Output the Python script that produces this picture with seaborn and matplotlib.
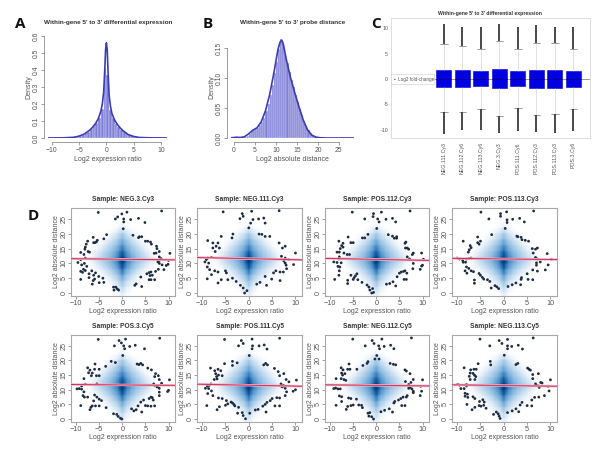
import numpy as np
import pandas as pd
import matplotlib
matplotlib.use("Agg")
import matplotlib.pyplot as plt
import seaborn as sns

sns.set_style("white")
plt.rcParams['font.family'] = ['Liberation Sans', 'DejaVu Sans']

W, H = 600, 453
TXT = "#555555"

# ---- panel A data
a_edges = [-10,-9.5,-9,-8.5,-8,-7.5,-7,-6.5,-6,-5.5,-5,-4.5,-4,-3.5,-3,-2.5,-2,-1.5,-1,-.5,0,.5,1,1.5,2,2.5,3,3.5,4,4.5,5,5.5,6,6.5,7,7.5,8,8.5,9,9.5,10]
a_heights = [.0003,.0003,.0005,.0007,.001,.0015,.002,.003,.005,.008,.012,.018,.027,.038,.052,.07,.09,.12,.17,.41,
             .37,.165,.115,.085,.065,.048,.034,.024,.016,.011,.007,.004,.003,.002,.0012,.0008,.0006,.0004,.0003,.0002]
a_curve_x = [-10.7,-8,-6,-5,-4,-3,-2.5,-2,-1.5,-1,-.75,-.5,-.3,-.15,0,.15,.3,.5,.75,1,1.5,2,2.5,3,4,5,6,8,11.1]
a_curve_y = [0,.001,.004,.011,.024,.048,.064,.085,.112,.16,.2,.27,.4,.52,.56,.52,.39,.25,.185,.145,.105,.08,.06,.044,.02,.009,.003,.001,0]

# ---- panel B data
b_edges = [x/2 for x in range(0, 43)]
b_heights = [.001,.0015,.001,.0008,.001,.002,.004,.007,.011,.013,.015,.017,.021,.027,.034,.045,.057,.072,.088,.108,.127,
             .148,.165,.16,.14,.125,.11,.097,.085,.072,.06,.049,.038,.028,.02,.013,.008,.005,.003,.0015,.0008,.0004]
b_curve_x = [-1.2,0,.7,1.5,2.5,3.5,4.5,5.5,6.5,7.5,8.5,9.5,10.5,11,11.4,11.8,12.5,13.5,14.5,15.5,16.5,17.5,18.5,19.5,20.5,22,28.6]
b_curve_y = [0,.0008,.0012,.0008,.002,.007,.013,.017,.027,.045,.072,.108,.148,.16,.163,.155,.13,.1,.075,.052,.03,.014,.005,.0015,.0004,0,0]

# ---- panel C data
c_samples = ["NEG.111.Cy3","NEG.112.Cy6","NEG.113.Cy6","NEG.3.Cy3","POS.111.Cy6","POS.112.Cy3","POS.113.Cy3","POS.3.Cy6"]
c_q1 = [-1.6,-1.6,-1.45,-1.85,-1.4,-1.8,-1.8,-1.5]
c_med = [0.05,0.05,0.0,0.05,0.05,0.0,0.0,0.05]
c_q3 = [1.7,1.7,1.5,2.0,1.6,1.8,1.8,1.6]
c_cap_hi = [6.8,6.5,6.0,7.5,5.9,7.1,7.0,5.9]
c_cap_lo = [-6.5,-6.4,-5.9,-7.3,-5.7,-7.0,-6.9,-5.8]
c_out_hi = [10.9,10.3,10.3,10.9,10.2,10.6,10.2,10.3]
c_out_lo = [-10.8,-10.0,-10.0,-10.6,-10.2,-10.4,-10.7,-10.2]

# ---- panel D density (shared look), x nodes on one side, rows from top to bottom
d_x = [0,.5,1,2,3,4,5,6,7,8,11]
d_y = [29,24,22,20,18,16,14,12,11,10,8,6,4,2,0,-1]
d_rows = [
 [0,0,0,0,0,0,0,0,0,0,0],
 [.01,0,0,0,0,0,0,0,0,0,0],
 [.12,.08,.04,0,0,0,0,0,0,0,0],
 [.32,.26,.20,.10,.03,0,0,0,0,0,0],
 [.45,.38,.32,.22,.12,.04,0,0,0,0,0],
 [.58,.50,.43,.33,.24,.14,.05,0,0,0,0],
 [.75,.64,.54,.42,.33,.25,.15,.06,.01,0,0],
 [.93,.78,.64,.50,.40,.32,.24,.14,.04,0,0],
 [1,.82,.66,.52,.41,.33,.25,.15,.05,0,0],
 [.95,.78,.62,.48,.38,.30,.22,.12,.03,0,0],
 [.75,.60,.50,.38,.27,.18,.09,.02,0,0,0],
 [.55,.45,.36,.25,.15,.07,.02,0,0,0,0],
 [.40,.32,.24,.13,.05,.01,0,0,0,0,0],
 [.27,.20,.12,.04,0,0,0,0,0,0,0],
 [.15,.10,.04,0,0,0,0,0,0,0,0],
 [.08,.05,.01,0,0,0,0,0,0,0,0],
]

neg3_cy3 = [(-5.2,27.2),(8.5,27.7),(1,27.3),(-.1,26.7),(-1,25.7),(-1.5,25),(.3,25),(.3,24),(1.8,24.8),(3.5,25.2),(4.9,23.8),(.2,21.7),(2.3,19.5),(-3.4,19.7),(-4,18.3),(-6.3,18.8),(-7.5,17.5),(-7.8,16.5),(-8,15.5),(-8.1,14.8),(-6.2,17),(-5.9,17),(-5.6,17.3),(-5.4,17.8),(-9,13.7),(-7.4,14),(-7.1,13.8),(-8.3,13),(-8,11.8),(-9,11.3),(-9.6,10.3),(-8.2,10),(-8.8,9.5),(-7.7,9),(-8.4,8),(-8,7.6),(-9,7.3),(-8.6,7),(-6.6,7.5),(-7.2,6.5),(-5.8,6.8),(-6.2,6),(-5.1,5.6),(-4.2,5),(-7.2,5.2),(-9,4.6),(-6.3,4.2),(-6,4.7),(-6.5,3),(-5,3.5),(-4,3.6),(-1.9,2),(-1.4,2),(-1.1,1.4),(-.8,1),(-1.8,1),(3,3.1),(2.7,2.6),(4.2,2.2),(4,5.4),(5.3,6.5),(5.8,6.9),(6.2,7.1),(6,5.9),(6.5,6),(5.8,4.5),(6.2,4.5),(7,4.5),(7.2,7.3),(7.8,8),(9,7.9),(9.5,9.3),(9.9,9.7),(8.6,9.5),(8,10),(7.7,10.5),(8,11),(8.4,11.6),(8,12.2),(10.3,13.4),(8,14),(7.3,13.5),(6.9,13.4),(7.5,15),(7.4,15.8),(6.3,16.5),(5,17.5),(5.5,17.5),(6.1,17.2),(3.5,18.7),(3.7,19),(4.2,19),(10,11)]
neg111_cy3 = [(-5.5,27.4),(6.5,27.8),(.6,27.6),(-1.4,26.8),(-1.2,25.9),(-1.9,25.1),(.9,24.8),(.4,23.6),(2.1,25),(3.2,25.3),(3.5,23.6),(0,22),(2.2,19.9),(-3.4,19.9),(-3.6,18.6),(-5.9,19.1),(-8.8,17.7),(-7.7,16.9),(-6.6,16.9),(-7,15.8),(-6.3,15.2),(-7.7,15.2),(-7.2,14),(-8.8,11.8),(-8,12),(-9.1,11.3),(-9.4,10.5),(-8.6,10.1),(-8.9,8.8),(-8.4,7.9),(-7.3,7.5),(-8.9,4.8),(-6.6,7.1),(-4.8,6.8),(-5.9,4.5),(-4.5,4.5),(-6.6,3.4),(-2.7,3.9),(-1.8,2.6),(-1.2,1.7),(-.9,0),(-.4,.8),(1.7,3),(2.4,3.6),(3.8,2.6),(3.5,5.6),(5.3,6.8),(5.8,7.5),(4.9,4.7),(6.7,4.2),(7.8,11.8),(7,12.4),(8.5,11.3),(7.8,10.1),(9.6,9.6),(8.1,8.2),(7.4,7.1),(6.7,7.1),(7.8,15.8),(7.2,15.2),(6.5,16.9),(4.5,19.1),(3.5,19.1),(10,13.5),(7.5,10.8),(8,9.4),(-8,6.2),(-5,7.5),(-3.5,5),(2.8,19.8)]
pos112_cy3 = [(-5.2,27.3),(7.3,27.7),(1.1,27.3),(-.6,26.8),(-.7,25.8),(-2.5,25),(.3,25),(.6,24),(2.1,24.9),(3.5,25.2),(4.2,24),(.1,21.8),(-1.8,19.8),(2.6,19.7),(-3,18.6),(-2.5,18.6),(-6.1,18.9),(-8.1,17.5),(-7.2,16.8),(-5.5,17),(-5,17),(-7.5,16),(-7.8,15),(-7.2,15.5),(-8.5,13.8),(-8,13.8),(-7,13.5),(-6.3,13),(-5.8,13),(-8,12.2),(-8.1,11.5),(-9.2,10.5),(-8.5,10.3),(-7.6,10.2),(-8.3,9),(-7.9,8.8),(-8,7.5),(-8.1,6),(-9,4.6),(-6.2,4.3),(-6.2,3.2),(-5.5,6),(-4.8,5.2),(-4.5,5.8),(-4.2,6.5),(-5,4.6),(-4,4.5),(-3.1,3.6),(-2,2.7),(-1.6,2),(-1.4,1),(-1,0),(-.6,.2),(-.8,1.5),(2.2,3),(2.9,3.2),(3.6,3.8),(4.2,2.4),(4.5,5.5),(5,6.7),(5.4,7.1),(5.9,7.3),(6,4.6),(6.5,4.6),(6.6,6.7),(6.2,7.5),(7.9,8.2),(8,10),(9.5,8),(10,9.4),(9.8,9.1),(10.2,11.4),(9.8,13.5),(8,13.5),(7.8,13),(6.7,12.2),(7.2,11.5),(6.3,15.2),(6.7,15.2),(7,14.8),(6.2,16.8),(6.4,17.2),(4.4,19),(4.4,18.5),(3.9,18.5),(3.5,19.2)]
pos113_cy3 = [(-4.9,27.3),(6.4,27.7),(.6,27.4),(-.7,26.8),(-.7,25.9),(-3.2,25),(.7,24.7),(.7,23.8),(1.9,24.9),(3.4,25.2),(4.4,24),(.3,21.8),(-2.6,19.7),(2.8,19.2),(3,19),(3.7,18.8),(3.9,18),(4.6,17.8),(5.3,17.5),(-5.6,18.9),(-8.7,17.5),(-5.6,17),(-5,17.5),(-5.3,16.5),(-7.2,16),(-7,15.3),(-7.4,14.6),(-7.6,13.8),(-10,11.8),(-9.5,11.5),(-8.8,11),(-8.7,10.4),(-8.2,10.4),(-8,11.5),(-7.5,11.7),(-7,11.8),(-8,8.8),(-7.5,8.3),(-8.3,7.5),(-7,7.5),(-7.9,6.7),(-6.5,7.2),(-6.3,4.4),(-6.3,3.3),(-5.3,6.6),(-5,6),(-4.6,5.3),(-4.3,4.7),(-3.5,4.5),(-3,3.9),(-2.7,1.7),(-1.9,2.5),(-1.5,2.1),(-1.1,1.5),(.9,2.2),(1.8,2.8),(2.6,3.4),(3.6,2.8),(3.7,4.6),(3.8,5.2),(5.2,4.6),(6.2,4.5),(5,6.5),(6.2,7.8),(7.2,7.4),(7,9.4),(8.9,7.8),(9.5,9.5),(7,10.2),(7.8,10.5),(7.2,11.5),(6.8,12),(10.2,11.4),(9.3,13.3),(7.2,15.2),(6.8,14.8),(6.3,13.5),(6.1,15)]
pos3_cy5 = [(-5.2,27.2),(8.1,27.6),(.7,27.3),(-.7,26.8),(-.2,26),(-1.7,25),(.3,25),(.5,24),(1.6,24.8),(2.8,25.2),(4.8,24),(.1,21.7),(-2.4,19.7),(-1.5,19.3),(-3.6,18),(-5.9,18.8),(-7.5,17.5),(-7,16.7),(-6,17),(-5,17),(-7.3,15.8),(-6.5,15.7),(-6.7,14.8),(-5.6,14.8),(-5,14.8),(-8.3,13.8),(-8,11.9),(-5.5,12),(-8.8,11.3),(-9.3,10.4),(-9.8,10.3),(-8.8,10.2),(-8.3,9.3),(-8.5,8),(-8.2,7.5),(-7.5,7.5),(-6,8.2),(-5.5,7.5),(-5,6.8),(-4.5,6.3),(-6.2,6.2),(-6.5,4.5),(-9,4.6),(-5.8,4.5),(-5,4.5),(-3.5,3.9),(-7,3.2),(-6.8,4),(-1.9,1.8),(-1.2,1.6),(-.9,.9),(-.4,.3),(-.1,0),(2,3.5),(2.5,2.8),(3,3.2),(3.4,4.5),(4.2,2.4),(4,5.8),(4.6,6.5),(5,4.6),(5.5,4.5),(6.2,4.4),(7,4.5),(5.8,7),(6.2,7.5),(6.7,6.5),(6.5,7.3),(8,8),(8,9.2),(9.8,9.4),(10,9.8),(8,10.5),(7.6,11),(6.8,12),(7,11.5),(7.5,11),(10.2,13.4),(8.5,12.2),(8,13.5),(7,14.5),(7.2,15.5),(7.8,14.8),(6.3,16.8),(5.5,17.4),(4.4,18.5),(3.2,18.8),(3.6,18.6),(4,19)]
pos111_cy5 = [(-5.2,27.2),(6.6,27.6),(.7,27.3),(-1.6,26.8),(-1.2,25.8),(-2.2,25),(.8,25),(.7,24),(2.2,25),(3.3,25.3),(3.9,23.9),(.1,21.7),(-3.5,19.7),(-2.5,19.2),(-3.5,18.3),(-5.2,18.9),(-8.2,17.4),(-6.6,17),(-7.3,16.5),(-6,16.5),(-7.1,15.5),(-6.5,15),(-6.9,14.5),(-5.7,14.8),(-7.4,13.5),(-6.8,13.7),(-8.1,12),(-8.5,11.5),(-8.9,11.2),(-9.3,10.5),(-8.6,10.4),(-8,9.6),(-8.8,8.7),(-7.7,8),(-6.5,7.2),(-5.7,7),(-4.8,6.3),(-3.8,5.8),(-3.5,5.5),(-3.2,5),(-4.5,5.2),(-9,4.6),(-5,4.7),(-3,4.5),(-2.2,4),(-6.3,4.2),(-6.8,3.2),(-2.4,2),(-1.4,2.2),(-1.2,1.2),(-.7,.1),(.2,2),(1.4,3.1),(2,3.3),(3,4.4),(3.7,2.4),(3.5,5),(3.9,5.7),(4.6,6.3),(5,7),(5.6,4.5),(6.6,4.5),(6,7.3),(6.6,7.2),(7.8,8),(8.1,9.3),(9.5,9.5),(10,10),(7,11.2),(7.4,11.5),(7.2,11),(6.9,12),(7.8,10.5),(10.2,13.3),(8.6,12.7),(8,13.5),(6.6,14.8),(7.5,15.5),(6.3,16.2),(5.5,17.3),(4,18.5),(3.6,19),(3.2,18.5)]
neg112_cy5 = [(-5.1,27.3),(7.6,27.7),(1.2,27.3),(-.9,26.8),(-.5,25.8),(-2.4,25),(.5,25),(.7,24),(1.7,24.8),(3.1,25.2),(3.8,24),(.1,21.7),(-.3,20.5),(.6,20.5),(-1.8,19.6),(-2,19),(-2.9,18.3),(3,19),(3.7,18.7),(-5.9,18.8),(-7.6,17.5),(-7.2,16.8),(-6.2,17),(-5.7,17),(-4.2,17),(-7.5,15.7),(-7.3,15),(-6.8,15.5),(-8.7,13.8),(-7.6,13.8),(-7,13.5),(-6.6,13.2),(-9.2,10.4),(-8.8,10.6),(-8.3,10.3),(-7.8,10.3),(-8,7.9),(-7.5,7.6),(-6,7.2),(-5.5,7),(-4.3,6.8),(-7.5,6),(-8.7,4.7),(-6.2,4.3),(-6.5,3.3),(-5.5,4.6),(-5,4.8),(-3.8,4.8),(-3.2,4.7),(-3,3.9),(-1.8,2),(-1.4,2.2),(-1.6,1),(-1,.8),(-.6,0),(1,2.5),(1.8,3),(2.8,3.5),(3.5,2.4),(3.8,5.5),(4,6),(4.8,6.5),(5.3,7),(5.8,7.5),(6.5,7.5),(6.7,8),(5.5,4.6),(6.2,4.6),(7,10.5),(7.3,10.8),(7.7,10.3),(8,9.5),(8,9),(9.5,8),(9.8,9.5),(9.6,11.2),(10,13.4),(8,13.5),(7.5,12.5),(7,11.8),(6.3,12.8),(7.3,15.5),(6.2,16.8),(6.5,16.4),(4.2,18.5)]
neg113_cy5 = [(-5.1,27.3),(6.3,27.7),(.8,27.2),(-1,26.8),(-.4,25.8),(-3,25),(.8,25),(.8,24),(1.7,24.8),(3.1,25.2),(4,23.9),(.1,21.8),(-2.9,19.7),(-2.8,18.5),(3,19),(2.6,18.6),(-5.5,18.9),(-8.5,17.5),(-7.1,16.8),(-6.4,17),(-5.9,17),(-7.2,15.7),(-6.6,15.6),(-6.3,15),(-7.4,14.6),(-6,14.5),(-7.2,13.5),(-6.2,13.5),(-9.9,11.8),(-9.5,11.6),(-8,11.3),(-8,11.8),(-9.2,10.4),(-8.5,10.4),(-8.3,8.8),(-7.8,8.5),(-8.3,7.8),(-7.7,7.4),(-6.6,7.6),(-6.2,7),(-5.2,6),(-4.5,6.6),(-4.2,5.8),(-7.9,5),(-6.8,3.2),(-6.2,4),(-5.3,4.6),(-4.9,4.4),(-4.3,4.7),(-3.8,3.7),(-2.2,1.6),(-1.6,2.4),(-1.2,1.8),(-1,1),(-.8,.2),(.8,2.2),(1.8,2.8),(2.6,3.5),(3.2,2.5),(3.5,4.8),(3.9,5.7),(5,4.6),(6,4.5),(6,6.5),(6.6,7.4),(7.5,7.5),(8.7,8),(9.7,9.6),(9.5,11.2),(7.6,10.8),(7.4,11.3),(7,11.5),(6.8,12),(7.9,12.5),(8.2,12.3),(10,13.4),(7.4,15.5),(6.2,13.8),(6.2,15.2),(5.4,17),(5.1,17.4),(5.7,16.7)]

d_titles = ["NEG.3.Cy3","NEG.111.Cy3","POS.112.Cy3","POS.113.Cy3","POS.3.Cy5","POS.111.Cy5","NEG.112.Cy5","NEG.113.Cy5"]
d_points = [neg3_cy3,neg111_cy3,pos112_cy3,pos113_cy3,pos3_cy5,pos111_cy5,neg112_cy5,neg113_cy5]
d_line_left = [11.6,12.0,11.7,11.7,11.8,11.9,11.7,11.7]
d_line_right = [11.2,11.2,11.0,11.3,11.5,11.2,11.3,11.2]
d_frames = [(71,175),(197,302),(325,429),(452,557)]
d_rows_px = [(208,296),(335,422)]

fig = plt.figure(figsize=(W/100, H/100), dpi=100, facecolor="white")

def axpx(l, r, t, b):
    return fig.add_axes([l/W, 1-b/H, (r-l)/W, (b-t)/H], facecolor="white")

def ticks(ax, size=4.9, pad=1.5, length=2, ypad=0.6):
    ax.tick_params(axis="x", length=length, width=.5, color="#777777", labelcolor=TXT,
                   labelsize=size, pad=pad, bottom=True)
    ax.tick_params(axis="y", length=length, width=.5, color="#777777", labelcolor=TXT,
                   labelsize=size, pad=ypad, left=True)
    for lab in ax.get_yticklabels():
        lab.set_rotation(90); lab.set_va("center")

def hist_panel(l, r, t, b, xlim, ylim, edges, heights, cx, cy, xt, yt, yfmt, xb, yb, xlabel, title, tx):
    ax = axpx(l, r, t, b)
    centers = [(edges[i]+edges[i+1])/2 for i in range(len(heights))]
    sns.histplot(x=centers, weights=heights, bins=edges, color="#7f7fd8", alpha=1,
                 edgecolor="#e4e4f6", linewidth=.3, ax=ax)
    sns.lineplot(x=cx, y=cy, color="#3c3cb4", lw=1.2, ax=ax)
    ax.set_xlim(*xlim); ax.set_ylim(*ylim)
    ax.set_xticks(xt); ax.set_yticks(yt); ax.set_yticklabels([yfmt % v for v in yt])
    for s in ("top","right"): ax.spines[s].set_visible(False)
    for s in ("left","bottom"):
        ax.spines[s].set_position(("outward", 3)); ax.spines[s].set_linewidth(.5); ax.spines[s].set_color("#777777")
    ax.spines["bottom"].set_bounds(xb); ax.spines["left"].set_bounds(yb)
    ticks(ax)
    ax.set_xlabel(xlabel, fontsize=5, color=TXT, labelpad=1.5)
    ax.set_ylabel("Density", fontsize=5, color=TXT, labelpad=0.5)
    fig.text(tx/W, 1-22.5/H, title, fontsize=4.6, fontweight="bold", color="#333333", ha="center", va="center")

hist_panel(48, 167, 36, 138, (-10.7, 11.1), (0, .6), a_edges, a_heights, a_curve_x, a_curve_y,
           [-10,-5,0,5,10], [0,.1,.2,.3,.4,.5,.6], "%.1f", (-10,10), (0,.6),
           "Log2 expression ratio", "Within-gene 5' to 3' differential expression", 108)
hist_panel(231, 354, 36, 138, (-.7, 28.6), (0, .17), b_edges, b_heights, b_curve_x, b_curve_y,
           [0,5,10,15,20,25], [0,.05,.10,.15], "%.2f", (0,25), (0,.15),
           "Log2 absolute distance", "Within-gene 5' to 3' probe distance", 293)

# ---- panel C
axc = axpx(391, 590, 18, 138)
rows = []
for s, a, q1, m, q3, b in zip(c_samples, c_cap_lo, c_q1, c_med, c_q3, c_cap_hi):
    rows += [(s, v) for v in (a, q1, m, q3, b)]
cdf = pd.DataFrame(rows, columns=["sample", "value"])
axc.axhline(0, color="#888888", lw=.6, zorder=0)
sns.boxplot(data=cdf, x="sample", y="value", order=c_samples, whis=(0, 100), width=.81, color="#0000e0",
            saturation=1, showfliers=False, linewidth=.4, ax=axc,
            boxprops=dict(edgecolor="#0000c8"), medianprops=dict(color="#000080", lw=.5),
            whiskerprops=dict(color="#cccccc", lw=.4), capprops=dict(color="#555555", lw=.4))
axc.vlines(range(8), c_cap_hi, c_out_hi, color="#3a3a3a", lw=1.3)
axc.vlines(range(8), c_out_lo, c_cap_lo, color="#3a3a3a", lw=1.3)
axc.set_xlim(-2.86, 7.9); axc.set_ylim(-11.6, 12)
axc.set_yticks([-10,-5,0,5,10]); axc.set_yticklabels(["-10","-5","0","5","10"])
axc.set_xlabel(""); axc.set_ylabel("")
axc.tick_params(axis="x", rotation=90, labelsize=3.8, labelcolor=TXT, length=0, pad=3)
axc.tick_params(axis="y", labelsize=3.8, labelcolor=TXT, length=0, pad=2)
for s in axc.spines.values():
    s.set_color("#dddddd"); s.set_linewidth(.7)
fig.patches.append(plt.Rectangle((391/W, 1-84/H), 43/W, 10/H, transform=fig.transFigure, fc="white", ec="#cccccc", lw=.4, zorder=3))
fig.text(398/W, 1-79.2/H, "Log2 fold-change", fontsize=3.3, color=TXT, va="center", zorder=5)
fig.text(394.5/W, 1-79.2/H, "\u25cf", fontsize=2.2, color="#222266", va="center", ha="center", zorder=5)
fig.text(490/W, 1-13/H, "Within-gene 5' to 3' differential expression", fontsize=3.7, fontweight="bold", color="#333333", ha="center", va="center")

# ---- panel D
cmap = sns.blend_palette(["#ffffff","#d3e4f4","#94c1e4","#4a90cb","#0d57a0","#06326e"], as_cmap=True)
half = np.array(d_rows)
xx = np.array([-v for v in d_x[:0:-1]] + d_x)
zz = np.hstack([half[:, :0:-1], half])
for i, (title, pts) in enumerate(zip(d_titles, d_points)):
    (l, r), (t, b) = d_frames[i % 4], d_rows_px[i // 4]
    ax = axpx(l, r, t, b)
    ax.pcolormesh(xx, d_y, zz, cmap=cmap, shading="gouraud", vmin=0, vmax=1, rasterized=True)
    pdf = pd.DataFrame(pts, columns=["ratio", "dist"])
    sns.scatterplot(data=pdf, x="ratio", y="dist", s=4, color="#1c2c44", edgecolor="none", ax=ax, zorder=3)
    sns.lineplot(x=[-11.1, 11.4], y=[d_line_left[i], d_line_right[i]], color="#f4b6c4", lw=1.8, ax=ax, zorder=4)
    sns.lineplot(x=[-11.1, 11.4], y=[d_line_left[i], d_line_right[i]], color="#c8305a", lw=.7, ax=ax, zorder=5)
    ax.set_xlim(-11.1, 11.4); ax.set_ylim(-1, 28.7)
    ax.set_xticks([-10,-5,0,5,10]); ax.set_yticks([0,5,10,15,20,25])
    ticks(ax, size=5.2, pad=1.2, ypad=0.4)
    ax.set_xlabel("Log2 expression ratio", fontsize=5, color=TXT, labelpad=0.6)
    ax.set_ylabel("Log2 absolute distance", fontsize=5, color=TXT, labelpad=0.2)
    ax.set_title("Sample: " + title, fontsize=4.8, fontweight="bold", color="#333333", pad=5)
    for s in ax.spines.values():
        s.set_color("#a8a8a8"); s.set_linewidth(.8)

# ---- panel letters
for letter, x, y in [("A", 20, 24), ("B", 208, 24), ("C", 376, 24), ("D", 33, 216)]:
    fig.text(x/W, 1-y/H, letter, fontsize=11, fontweight="bold", color="#111111", ha="center", va="center", family="Open Sans")

fig.savefig("out.png", dpi=100)
